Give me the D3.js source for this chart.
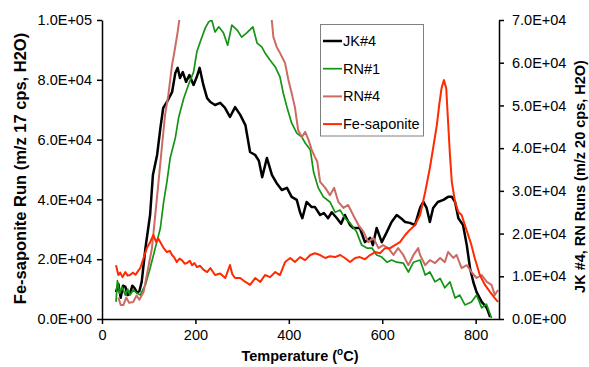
<!DOCTYPE html>
<html>
<head>
<meta charset="utf-8">
<script src="https://cdn.jsdelivr.net/npm/d3@7"></script>
<style>
  body { margin: 0; background: #fff; }
  svg { font-family: "Liberation Sans", Arial, sans-serif; }
  .tick text { font-size: 14.5px; fill: #000; }
  .ttl { font-size: 14.5px; font-weight: bold; fill: #000; }
</style>
</head>
<body>
<div id="chart"></div>
<script>
// ---- data: [temperature degC, counts] ----
const X_TICKS = [0, 200, 400, 600, 800];
const LEFT_TICKS = [0, 2e4, 4e4, 6e4, 8e4, 1e5];
const RIGHT_TICKS = [0, 1e4, 2e4, 3e4, 4e4, 5e4, 6e4, 7e4];

// right axis series
const jk4 = [[30,6300],[35,8200],[40,5000],[45,7800],[50,7500],[55,5600],[60,6000],[65,7800],[70,7200],[75,6200],[80,6500],[85,8700],[93,16600],[103,24400],[109,33700],[118,38400],[125,44700],[131,49400],[139,50800],[150,53100],[157,57600],[162,58800],[167,56400],[173,57800],[180,55500],[187,57100],[196,54800],[203,56700],[209,58800],[217,54800],[225,51700],[232,50800],[242,50100],[253,50600],[263,49500],[274,47300],[285,49600],[296,47800],[307,45400],[317,39100],[328,38400],[336,37000],[343,33200],[353,37700],[364,33700],[374,31800],[385,30200],[396,30700],[406,28600],[417,27900],[424,25000],[429,23600],[438,27400],[449,26200],[456,26200],[467,24350],[475,24800],[484,23600],[492,25000],[503,23600],[512,22300],[520,24350],[531,22000],[538,21300],[552,21300],[563,18000],[574,19000],[580,17300],[588,21300],[599,18000],[610,20400],[620,22700],[631,24350],[640,23600],[649,22700],[659,22500],[670,22000],[681,26000],[688,27400],[695,26000],[702,22700],[709,26000],[719,27400],[731,27900],[741,28600],[749,28600],[756,27400],[763,23600],[773,22000],[781,17300],[788,11900],[795,8660],[802,6300],[813,4000],[824,2600],[831,470]];

const rn1 = [[30,4000],[33,9000],[38,6000],[43,7500],[50,5600],[55,7000],[60,5600],[67,6800],[75,6000],[82,5600],[88,7000],[93,8000],[103,11900],[114,16600],[125,21300],[132,27400],[139,32100],[146,37700],[157,42400],[164,47100],[175,51700],[185,54800],[196,57800],[203,62500],[210,64800],[221,68100],[228,69500],[235,70000],[242,67200],[250,68400],[260,67000],[269,64100],[278,68800],[289,67700],[299,66000],[310,67000],[323,68400],[332,64600],[342,63700],[349,62300],[360,60600],[371,59000],[381,56700],[388,52900],[396,49600],[406,45900],[417,43500],[428,42600],[435,41200],[446,39600],[453,34400],[463,30700],[474,28600],[488,27400],[499,25000],[510,25500],[520,23600],[531,22500],[545,20400],[556,17300],[567,16600],[578,16600],[588,15000],[599,14500],[610,13300],[620,13800],[631,13300],[645,13100],[656,11000],[667,13300],[681,13800],[692,10300],[702,11000],[713,8700],[724,9500],[734,7300],[745,8700],[756,4900],[766,5600],[777,3300],[791,4000],[802,5600],[813,2600],[823,3500],[834,230]];

const rn4 = [[35,5000],[40,3300],[46,3300],[52,5000],[58,3800],[67,4000],[74,5500],[80,4500],[89,6300],[96,10300],[107,16600],[114,24300],[121,32100],[128,40000],[135,47800],[142,52400],[150,59500],[155,62500],[162,67200],[168,72000],[200,90000],[250,95000],[300,90000],[350,76000],[363,70500],[367,66000],[374,63700],[381,62300],[392,59900],[399,56000],[406,52900],[413,49600],[420,44200],[428,42600],[435,43800],[442,42000],[449,39600],[456,37900],[461,36800],[467,32100],[478,30700],[488,29000],[497,30700],[506,27400],[517,26000],[527,26700],[538,24300],[549,22000],[560,20400],[570,18000],[581,19000],[592,16600],[602,17300],[613,16600],[624,15000],[634,16600],[645,15000],[656,12600],[667,15000],[677,16600],[681,15000],[692,12600],[702,13800],[713,13100],[724,14300],[734,13300],[741,15700],[752,14300],[759,15000],[770,11900],[781,12600],[791,11000],[802,9600],[813,10300],[824,8700],[834,8000],[841,5600],[848,6800]];

// left axis series
const feSap = [[30,18000],[35,14700],[39,15500],[44,14000],[50,15700],[55,14500],[60,14700],[66,15500],[72,14800],[77,16000],[82,17050],[89,20400],[96,23700],[103,25700],[110,28100],[116,25700],[120,27000],[125,25700],[132,23700],[139,22400],[145,22800],[150,21400],[155,20500],[160,19060],[166,20200],[171,19700],[177,18500],[182,18700],[188,19500],[193,18000],[198,18700],[203,17400],[210,17800],[217,16500],[225,15700],[232,17050],[242,14700],[253,15200],[264,13700],[274,18060],[279,15000],[285,13700],[296,13700],[307,12400],[317,11400],[328,13700],[339,12400],[349,14700],[360,14000],[371,15700],[381,14700],[392,19060],[403,20400],[413,19060],[424,20700],[435,19700],[446,21400],[456,22000],[467,21400],[478,20400],[488,21000],[499,20700],[510,21400],[520,20400],[531,19060],[542,20400],[552,20700],[563,20000],[574,21400],[585,22400],[595,22000],[606,23700],[617,23700],[627,24700],[638,25700],[649,28100],[659,29800],[670,31400],[681,34800],[692,42500],[702,50500],[709,57200],[717,64900],[722,71600],[727,77200],[732,79900],[737,77200],[741,65900],[745,54800],[749,45800],[756,39100],[763,35800],[770,34800],[777,31400],[784,28100],[791,24700],[798,20400],[809,14700],[820,11400],[831,9000],[841,7000],[848,5700]];

const SERIES = [
  { name: "JK#4", data: jk4, axis: "right", color: "#000000", width: 2.5 },
  { name: "RN#1", data: rn1, axis: "right", color: "#149414", width: 1.7 },
  { name: "RN#4", data: rn4, axis: "right", color: "#cc6b64", width: 2 },
  { name: "Fe-saponite", data: feSap, axis: "left", color: "#ff2a00", width: 2 }
];

const W = 589, H = 367;
const m = { left: 102, right: 90, top: 20, bottom: 48 };

// Excel style "1.0E+05"
function sci(v){
  if (v === 0) return "0.0E+00";
  const e = Math.floor(Math.log10(v));
  const mant = v / Math.pow(10, e);
  return mant.toFixed(1) + "E+" + String(e).padStart(2, "0");
}

const svg = d3.select("#chart").append("svg").attr("width", W).attr("height", H);

const x = d3.scaleLinear().domain([0, 850]).range([m.left, W - m.right]);
const yL = d3.scaleLinear().domain([0, 1e5]).range([H - m.bottom, m.top]);
const yR = d3.scaleLinear().domain([0, 7e4]).range([H - m.bottom, m.top]);

svg.append("clipPath").attr("id", "plot").append("rect")
  .attr("x", m.left).attr("y", m.top)
  .attr("width", W - m.right - m.left).attr("height", H - m.bottom - m.top);

// red (Fe-saponite) is drawn last, on top of the others
const lines = svg.append("g").attr("clip-path", "url(#plot)");
SERIES.forEach(s => {
  const yy = s.axis === "left" ? yL : yR;
  lines.append("path").datum(s.data)
    .attr("fill", "none").attr("stroke", s.color).attr("stroke-width", s.width)
    .attr("stroke-linejoin", "round")
    .attr("d", d3.line().x(d => x(d[0])).y(d => yy(d[1])));
});

// axes
const gx = svg.append("g").attr("transform", `translate(0,${H - m.bottom})`)
  .call(d3.axisBottom(x).tickValues(X_TICKS).tickSize(5).tickPadding(6).tickSizeOuter(0));
const gl = svg.append("g").attr("transform", `translate(${m.left},0)`)
  .call(d3.axisLeft(yL).tickValues(LEFT_TICKS).tickFormat(sci).tickSize(5).tickPadding(5).tickSizeOuter(0));
const gr = svg.append("g").attr("transform", `translate(${W - m.right},0)`)
  .call(d3.axisRight(yR).tickValues(RIGHT_TICKS).tickFormat(sci).tickSize(5).tickPadding(8).tickSizeOuter(0));
[gx, gl, gr].forEach(g => {
  g.selectAll(".domain").attr("stroke", "#000").attr("stroke-width", 1.5);
  g.selectAll(".tick line").attr("stroke", "#000").attr("stroke-width", 1.5);
  g.attr("font-family", null).attr("font-size", null);
});

// axis titles
const xt = svg.append("text").attr("class", "ttl").attr("text-anchor", "middle")
  .attr("x", 300).attr("y", 361);
xt.append("tspan").text("Temperature (");
xt.append("tspan").attr("font-size", "10px").attr("dy", -6).text("o");
xt.append("tspan").attr("dy", 6).text("C)");

svg.append("text").attr("class", "ttl").attr("text-anchor", "middle")
  .style("font-size", "16.5px")
  .attr("transform", `translate(26.3,168.5) rotate(-90)`)
  .text("Fe-saponite Run (m/z 17 cps, H2O)");
svg.append("text").attr("class", "ttl").attr("text-anchor", "middle")
  .attr("transform", `translate(585,176.5) rotate(-90)`)
  .text("JK #4, RN Runs (m/z 20 cps, H2O)");

// legend
const lg = svg.append("g");
lg.append("rect").attr("x", 320.5).attr("y", 24.5).attr("width", 103).attr("height", 111.5)
  .attr("fill", "#fff").attr("stroke", "#808080").attr("stroke-width", 1);
SERIES.forEach((s, i) => {
  const yy = 41 + i * 27.7;
  lg.append("line").attr("x1", 323).attr("x2", 342).attr("y1", yy).attr("y2", yy)
    .attr("stroke", s.color).attr("stroke-width", s.width);
  lg.append("text").attr("x", 343).attr("y", yy + 5).attr("font-size", "14.5px").text(s.name);
});
</script>
</body>
</html>
